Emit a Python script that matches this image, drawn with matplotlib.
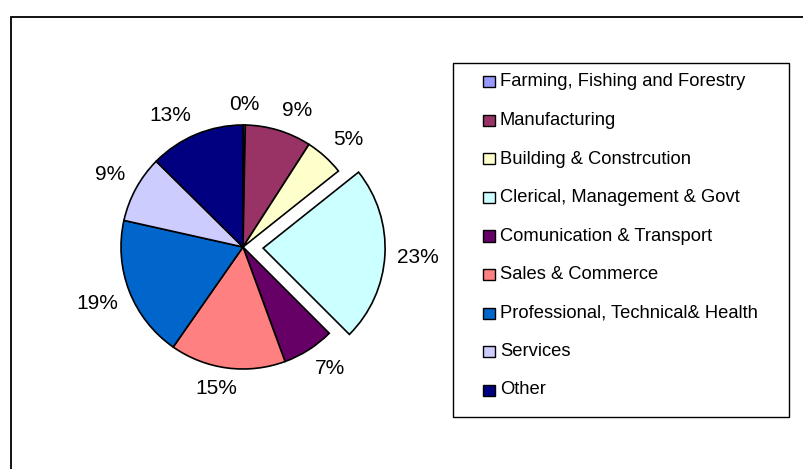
import matplotlib
matplotlib.use("Agg")
import numpy as np
import matplotlib.pyplot as plt
from matplotlib.patches import Rectangle

plt.rcParams['font.family'] = ['Liberation Sans', 'DejaVu Sans']

# occupation groups and their share (%)
categories = ["Farming, Fishing and Forestry", "Manufacturing", "Building & Constrcution",
              "Clerical, Management & Govt", "Comunication & Transport", "Sales & Commerce",
              "Professional, Technical& Health", "Services", "Other"]
shares = [0.3, 8.8, 5.2, 23.2, 6.9, 15.3, 18.8, 8.9, 12.6]
colors = ["#9999FF", "#993366", "#FFFFCC", "#CCFFFF", "#660066",
          "#FF8080", "#0066CC", "#CCCCFF", "#000080"]
explode = [0, 0, 0, 0.165, 0, 0, 0, 0, 0]

W, H = 804, 469
fig = plt.figure(figsize=(W / 100, H / 100), dpi=100)

# outer chart border (runs off the right and bottom of the image)
fig.patches.append(Rectangle((11 / W, -0.1), 1.2, 1 - 17 / H + 0.1, transform=fig.transFigure,
                             fill=False, edgecolor="black", linewidth=1.3))

# pie axes: centre at (243, 247) px, radius 122 px
R = 122
half = 200
cx, cy = 243, H - 247
ax = fig.add_axes([(cx - half) / W, (cy - half) / H, 2 * half / W, 2 * half / H])
wedges, _ = ax.pie(shares, colors=colors, explode=explode, startangle=90,
                   counterclock=False,
                   wedgeprops=dict(edgecolor="black", linewidth=1.2))
L = half / R
ax.set_xlim(-L, L)
ax.set_ylim(-L, L)
ax.set_aspect("equal")
ax.axis("off")

# percentage labels, placed Excel-style: corner of the label box near the rim
total = sum(shares)
renderer = fig.canvas.get_renderer()
for w, v in zip(wedges, shares):
    mid = np.deg2rad((w.theta1 + w.theta2) / 2)
    c, s = np.cos(mid), np.sin(mid)
    x0 = w.center[0] + 1.1 * c
    y0 = w.center[1] + 1.1 * s
    t = ax.text(x0, y0, f"{100 * v / total:.0f}%", fontsize=15, ha="center", va="center")
    bb = t.get_window_extent(renderer)
    fx = np.clip(3.5 * c, -1, 1)
    fy = np.clip(3.5 * s, -1, 1)
    t.set_position((x0 + fx * bb.width / 2 / R, y0 + fy * bb.height / 2 / R * 0.85))

# legend box
lx0, ly0, lx1, ly1 = 453, 63, 789, 417
fig.patches.append(Rectangle((lx0 / W, 1 - ly1 / H), (lx1 - lx0) / W, (ly1 - ly0) / H,
                             transform=fig.transFigure, fill=False, edgecolor="black",
                             linewidth=1.0))
row0, step = 82, 38.5
for i, (lab, col) in enumerate(zip(categories, colors)):
    yc = row0 + i * step
    fig.patches.append(Rectangle((483 / W, 1 - (yc + 5.5) / H), 12 / W, 11 / H,
                                 transform=fig.transFigure, facecolor=col,
                                 edgecolor="black", linewidth=1.0))
    fig.text(500 / W, 1 - yc / H, lab, fontsize=13.2, va="center", ha="left")

fig.savefig("out.png", dpi=100)
